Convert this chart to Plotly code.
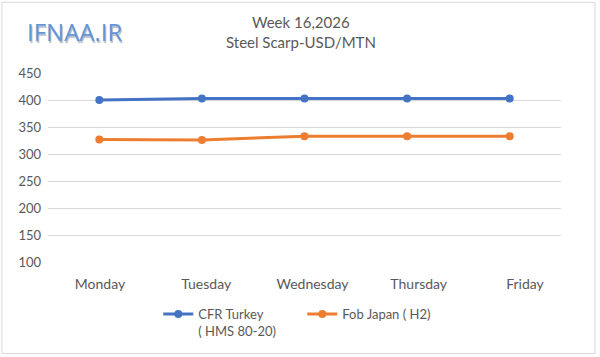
import plotly.graph_objects as go

days = ["Monday", "Tuesday", "Wednesday", "Thursday", "Friday"]
cfr_turkey = [400, 403, 403, 403, 403]
fob_japan = [327, 326, 333, 333, 333]
y_ticks = [100, 150, 200, 250, 300, 350, 400, 450]

FONT = "Lato, Noto Sans, sans-serif"
GRAY = "#595959"

fig = go.Figure()
fig.add_trace(go.Scatter(
    x=days, y=cfr_turkey, mode="lines+markers",
    name="CFR Turkey<br>( HMS 80-20)",
    line=dict(color="#4472C4", width=3),
    marker=dict(size=8, color="#4472C4"),
))
fig.add_trace(go.Scatter(
    x=days, y=fob_japan, mode="lines+markers",
    name="Fob Japan ( H2)",
    line=dict(color="#ED7D31", width=3),
    marker=dict(size=8, color="#ED7D31"),
))
# category labels axis (labels sit on a slightly wider spacing in the reference)
fig.add_trace(go.Scatter(x=days, y=[None] * len(days), xaxis="x2",
                         showlegend=False, hoverinfo="skip"))

fig.update_layout(
    width=600, height=357,
    margin=dict(l=48, r=39, t=73, b=94),
    paper_bgcolor="white", plot_bgcolor="white",
    font=dict(family=FONT, size=13, color=GRAY),
    showlegend=True,
    legend=dict(orientation="h", x=0.215, xanchor="left", y=-0.19, yanchor="top",
                valign="top", font=dict(size=13, color=GRAY),
                entrywidth=99, entrywidthmode="pixels",
                itemwidth=30, tracegroupgap=0),
    xaxis=dict(showgrid=False, showline=False, zeroline=False, ticks="",
               showticklabels=False, range=[-0.5, 4.5]),
    xaxis2=dict(overlaying="x", anchor="y", side="bottom", showgrid=False,
                showline=False, zeroline=False, ticks="",
                tickfont=dict(size=14, color=GRAY), ticklabelstandoff=12,
                range=[-0.489, 4.339]),
    yaxis=dict(range=[100, 450], tickvals=y_ticks, showgrid=True,
               gridcolor="#d9d9d9", gridwidth=1, zeroline=False, showline=False,
               ticks="", tickfont=dict(size=13, color=GRAY), ticklabelstandoff=6),
)

fig.add_annotation(text="Week 16,2026", xref="paper", yref="paper",
                   x=0.493, y=1.0, yanchor="middle", yshift=51, showarrow=False,
                   font=dict(size=15, color=GRAY, family=FONT))
fig.add_annotation(text="Steel Scarp-USD/MTN", xref="paper", yref="paper",
                   x=0.493, y=1.0, yanchor="middle", yshift=31, showarrow=False,
                   font=dict(size=15, color=GRAY, family=FONT))

# logo
fig.add_annotation(text="IFNAA.IR", xref="paper", yref="paper",
                   x=-0.045, y=1.0, xanchor="left", yanchor="middle",
                   yshift=42, showarrow=False,
                   font=dict(size=24, color="#6494d8", family="Open Sans, sans-serif",
                             shadow="1px 2px 1px #b0b8c4"))

# outer frame
fig.add_shape(type="rect", xref="paper", yref="paper",
              x0=-0.0897, x1=1.0663, y0=-0.484, y1=1.3737,
              line=dict(color="#d9d9d9", width=1))

fig.write_html("out.html")
